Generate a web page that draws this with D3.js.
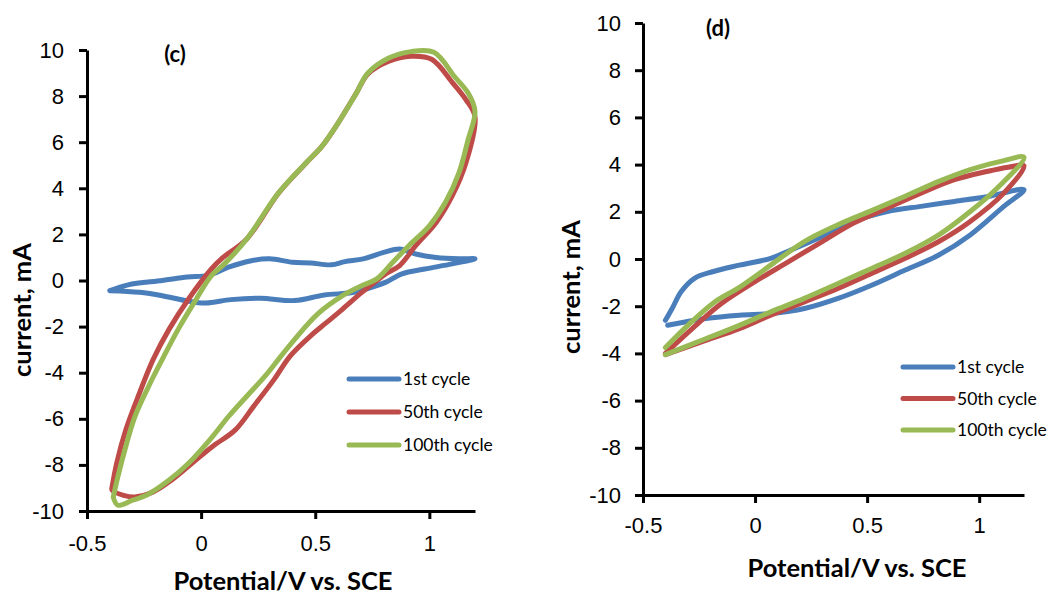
<!DOCTYPE html>
<html>
<head>
<meta charset="utf-8">
<script src="https://cdn.jsdelivr.net/npm/d3@7"></script>
<style>
  body { margin: 0; background: #ffffff; }
  svg { display: block; font-family: Lato, "Open Sans", sans-serif; }
  .axis path, .axis line { stroke: #000000; stroke-width: 3; }
  .axis text { font-size: 22px; fill: #000000; }
  .title { font-size: 25.5px; font-weight: bold; }
  .tag { font-size: 22px; font-weight: bold; }
  .legend text { font-size: 17.5px; }
</style>
</head>
<body>
<div id="chart"></div>
<script>
// Tick values and labels
var xTicks = [-0.5, 0, 0.5, 1];
var yTicks = [-10, -8, -6, -4, -2, 0, 2, 4, 6, 8, 10];
var seriesNames = ["1st cycle", "50th cycle", "100th cycle"];
var seriesColors = ["#4A7EBB", "#BE4B48", "#98B954"];

// Panel (c) : [potential V, current mA]
var c1st = [[-0.40,-0.44],[-0.32,-0.19],[-0.17,0.00],[-0.06,0.15],[0.03,0.22],[0.12,0.58],[0.22,0.86],[0.30,0.94],[0.40,0.79],[0.48,0.76],[0.57,0.68],[0.63,0.82],[0.71,0.94],[0.80,1.22],[0.87,1.37],[0.94,1.15],[1.03,1.00],[1.13,0.94],[1.20,0.94],[1.10,0.72],[0.98,0.50],[0.88,0.29],[0.81,-0.07],[0.77,-0.22],[0.67,-0.51],[0.54,-0.63],[0.41,-0.87],[0.26,-0.77],[0.13,-0.83],[0.02,-0.98],[-0.07,-0.87],[-0.17,-0.66],[-0.27,-0.51],[-0.40,-0.44]];
var c50th = [[-0.39,-8.95],[-0.37,-7.93],[-0.33,-6.48],[-0.27,-4.88],[-0.21,-3.42],[-0.14,-2.11],[-0.055,-0.80],[0.046,0.51],[0.09,0.95],[0.20,1.80],[0.34,3.80],[0.46,5.10],[0.53,5.83],[0.60,6.83],[0.68,8.13],[0.73,8.95],[0.82,9.50],[0.92,9.73],[1.01,9.60],[1.10,8.60],[1.16,7.85],[1.20,7.10],[1.16,5.10],[1.10,3.67],[1.03,2.52],[0.94,1.51],[0.87,0.65],[0.81,0.30],[0.77,0.00],[0.70,-0.55],[0.62,-1.24],[0.55,-1.82],[0.48,-2.40],[0.39,-3.28],[0.32,-4.29],[0.23,-5.46],[0.15,-6.48],[0.05,-7.20],[-0.04,-7.93],[-0.13,-8.66],[-0.21,-9.17],[-0.29,-9.39],[-0.34,-9.32],[-0.39,-9.10],[-0.39,-8.95]];
var c100th = [[-0.385,-9.40],[-0.365,-8.52],[-0.33,-7.20],[-0.29,-5.90],[-0.23,-4.59],[-0.17,-3.42],[-0.10,-2.11],[-0.03,-0.95],[0.046,0.22],[0.10,0.70],[0.20,1.80],[0.34,3.81],[0.46,5.11],[0.53,5.83],[0.60,6.83],[0.68,8.13],[0.73,8.99],[0.82,9.64],[0.92,9.93],[1.02,9.90],[1.11,8.85],[1.17,8.13],[1.20,7.34],[1.17,6.12],[1.13,4.68],[1.07,3.38],[1.00,2.37],[0.91,1.51],[0.84,0.79],[0.77,0.07],[0.71,-0.20],[0.62,-0.66],[0.51,-1.46],[0.41,-2.55],[0.35,-3.28],[0.28,-4.15],[0.20,-5.02],[0.12,-5.90],[0.05,-6.77],[-0.055,-7.93],[-0.14,-8.66],[-0.24,-9.32],[-0.30,-9.53],[-0.365,-9.75],[-0.385,-9.40]];

// Panel (d) : [potential V, current mA]
var d1st = [[-0.40,-2.60],[-0.37,-2.10],[-0.33,-1.39],[-0.27,-0.82],[-0.19,-0.54],[-0.07,-0.26],[0.07,0.03],[0.16,0.38],[0.30,0.95],[0.44,1.59],[0.59,2.01],[0.74,2.23],[0.89,2.44],[1.04,2.65],[1.20,2.94],[1.11,2.23],[0.96,1.02],[0.82,0.17],[0.67,-0.47],[0.52,-1.11],[0.37,-1.67],[0.22,-2.10],[0.07,-2.31],[-0.07,-2.38],[-0.22,-2.52],[-0.39,-2.81]];
var d50th = [[-0.40,-4.00],[-0.28,-2.95],[-0.15,-1.89],[0.00,-0.96],[0.15,-0.11],[0.30,0.74],[0.44,1.52],[0.59,2.16],[0.74,2.79],[0.89,3.36],[1.04,3.72],[1.13,3.89],[1.20,3.95],[1.11,2.79],[0.96,1.59],[0.82,0.74],[0.67,0.03],[0.52,-0.61],[0.37,-1.25],[0.22,-1.82],[0.07,-2.38],[-0.07,-2.95],[-0.22,-3.45],[-0.40,-4.05]];
var d100th = [[-0.40,-3.75],[-0.30,-2.81],[-0.18,-1.82],[-0.07,-1.20],[0.07,-0.26],[0.22,0.74],[0.37,1.45],[0.52,2.05],[0.67,2.66],[0.82,3.29],[0.96,3.79],[1.11,4.17],[1.20,4.31],[1.08,3.00],[0.96,2.01],[0.82,1.02],[0.67,0.24],[0.52,-0.40],[0.37,-1.04],[0.22,-1.67],[0.07,-2.24],[-0.07,-2.81],[-0.22,-3.38],[-0.40,-4.05]];

var svg = d3.select("#chart")
            .append("svg")
            .attr("width", 1055)
            .attr("height", 594);

function generatePanel(panel) {

  // Scales
  var xScale = d3.scaleLinear()
    .domain([-0.5, 1.2])
    .range([panel.left, panel.left + panel.width]);

  var yScale = d3.scaleLinear()
    .domain([-10, 10])
    .range([panel.top + panel.height, panel.top]);

  // Axes
  var xAxis = d3.axisBottom(xScale)
                .tickValues(xTicks)
                .tickSizeInner(8)
                .tickSizeOuter(0)
                .tickPadding(panel.xPad)
                .tickFormat(function(d) { return String(d); });

  var yAxis = d3.axisLeft(yScale)
                .tickValues(yTicks)
                .tickSizeInner(8)
                .tickSizeOuter(0)
                .tickPadding(panel.yPad)
                .tickFormat(function(d) { return String(d); });

  // Lines
  var line = d3.line()
               .x(function(d) { return xScale(d[0]); })
               .y(function(d) { return yScale(d[1]); })
               .curve(d3.curveCatmullRom.alpha(0.5));

  svg.selectAll(null)
     .data(panel.series)
     .enter()
     .append("path")
     .attr("d", function(d) { return line(d); })
     .attr("fill", "none")
     .attr("stroke", function(d, i) { return seriesColors[i]; })
     .attr("stroke-width", 5)
     .attr("stroke-linecap", "round")
     .attr("stroke-linejoin", "round");

  svg.append("g")
     .attr("class", "axis")
     .attr("transform", "translate(0," + (panel.top + panel.height) + ")")
     .call(xAxis);

  svg.append("g")
     .attr("class", "axis")
     .attr("transform", "translate(" + panel.left + ",0)")
     .call(yAxis);

  // Axis titles
  svg.append("text")
     .attr("class", "title")
     .attr("x", panel.xTitle[0])
     .attr("y", panel.xTitle[1])
     .attr("text-anchor", "middle")
     .text("Potential/V vs. SCE");

  svg.append("text")
     .attr("class", "title")
     .attr("transform", "translate(" + panel.yTitle[0] + "," + panel.yTitle[1] + ") rotate(-90)")
     .attr("text-anchor", "middle")
     .attr("dy", "0.35em")
     .text("current, mA");

  svg.append("text")
     .attr("class", "tag")
     .attr("x", panel.tag[0])
     .attr("y", panel.tag[1])
     .attr("text-anchor", "middle")
     .text(panel.label);

  // Legend
  var legend = svg.append("g")
                  .attr("class", "legend")
                  .attr("transform", "translate(" + panel.legend[0] + "," + panel.legend[1] + ")");

  var rows = legend.selectAll("g")
                   .data(seriesNames)
                   .enter()
                   .append("g")
                   .attr("transform", function(d, i) { return "translate(0," + i * panel.legendStep + ")"; });

  rows.append("line")
      .attr("x1", 0)
      .attr("x2", 50)
      .attr("stroke", function(d, i) { return seriesColors[i]; })
      .attr("stroke-width", 5)
      .attr("stroke-linecap", "round");

  rows.append("text")
      .attr("x", 54)
      .attr("dy", "0.35em")
      .text(function(d) { return d; });
}

generatePanel({
  label: "(c)", left: 87, top: 50, width: 388, height: 461,
  xPad: 16, yPad: 15,
  series: [c1st, c50th, c100th],
  xTitle: [283, 590], yTitle: [22, 310], tag: [175, 62],
  legend: [349, 379], legendStep: 33
});

generatePanel({
  label: "(d)", left: 643, top: 23, width: 381, height: 472,
  xPad: 14, yPad: 14,
  series: [d1st, d50th, d100th],
  xTitle: [857, 577], yTitle: [571, 287], tag: [718, 36],
  legend: [903, 367], legendStep: 31.5
});
</script>
</body>
</html>
